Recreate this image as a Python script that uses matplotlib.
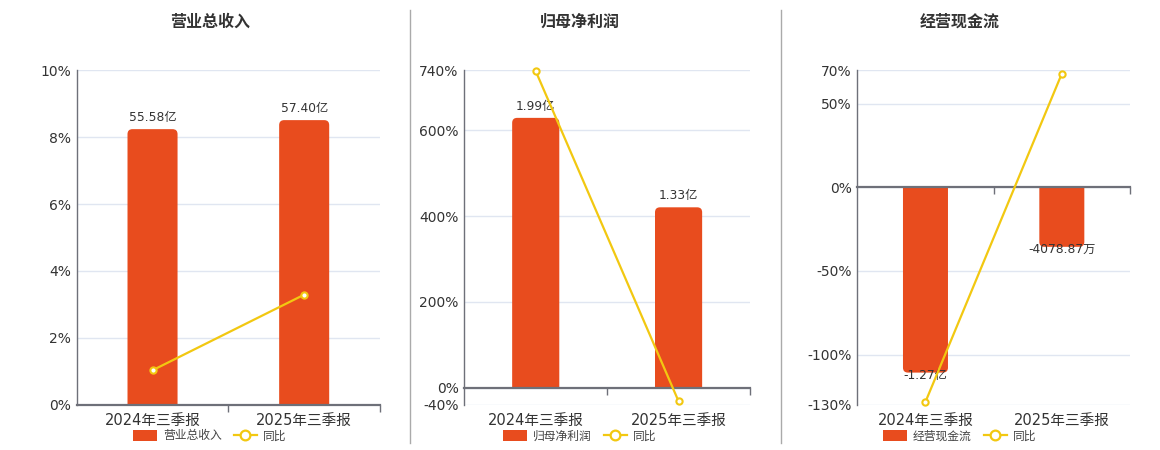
import matplotlib
matplotlib.use("Agg")
import matplotlib.pyplot as plt
from matplotlib.patches import PathPatch, Patch
from matplotlib.path import Path
from matplotlib.lines import Line2D
import numpy as np

plt.rcParams['font.family'] = ['DejaVu Sans', 'Noto Sans CJK SC']

categories = ['2024年三季报', '2025年三季报']

titles = ['营业总收入', '归母净利润', '经营现金流']
bar_names = ['营业总收入', '归母净利润', '经营现金流']

rev_values = [55.58, 57.40]          # 亿
rev_yoy = [1.03, 3.29]               # %
rev_labels = ['55.58亿', '57.40亿']

np_values = [1.99, 1.33]             # 亿
np_yoy = [738.0, -32.0]
np_labels = ['1.99亿', '1.33亿']

cf_values = [-1.27, -0.407887]       # 亿
cf_yoy = [-128.3, 68.0]
cf_labels = ['-1.27亿', '-4078.87万']

pct_ticks = [[0, 2, 4, 6, 8, 10],
             [-40, 0, 200, 400, 600, 740],
             [-130, -100, -50, 0, 50, 70]]
bar_ranges = [(0, 67.45), (-0.1266, 2.341), (-1.490, 0.802)]

BAR_C = '#E84C1E'
LINE_C = '#F2C811'
AX_C = '#6E7079'
GRID_C = '#E0E6F1'
TXT_C = '#333333'

W, H = 1160, 450
fig = plt.figure(figsize=(W / 100, H / 100), dpi=100)

# axes rectangles in pixels: left, right, top, bottom
rects = [(76.7, 380.0, 70.3, 404.7),
         (464.3, 750.0, 70.3, 404.7),
         (857.3, 1130.0, 70.3, 404.7)]
legend_cx = [210, 580, 960]
title_cx = [210, 580, 960]

series = [(rev_values, rev_yoy, rev_labels),
          (np_values, np_yoy, np_labels),
          (cf_values, cf_yoy, cf_labels)]


def rounded_bar_path(x0, y0, w, h, rx, ry):
    """Rectangle with the two corners at the far end (y0+h) rounded."""
    s = 1 if h >= 0 else -1
    y1 = y0 + h
    ry = min(ry, abs(h) / 2)
    verts = [(x0, y0), (x0, y1 - s * ry), (x0, y1), (x0 + rx, y1),
             (x0 + w - rx, y1), (x0 + w, y1), (x0 + w, y1 - s * ry),
             (x0 + w, y0), (x0, y0)]
    codes = [Path.MOVETO, Path.LINETO, Path.CURVE3, Path.CURVE3,
             Path.LINETO, Path.CURVE3, Path.CURVE3, Path.LINETO, Path.CLOSEPOLY]
    return Path(verts, codes)


for i in range(3):
    l, r, t, b = rects[i]
    pos = [l / W, 1 - b / H, (r - l) / W, (b - t) / H]
    vals, yoy, labs = series[i]
    ticks = pct_ticks[i]
    ylim_pct = (ticks[0], ticks[-1])
    x = np.arange(len(categories))
    xlim = (-0.5, len(categories) - 0.5)

    ax = fig.add_axes(pos)
    ax.set_xlim(*xlim)
    ax.set_ylim(*ylim_pct)
    ax.set_yticks(ticks)
    ax.set_yticklabels([f'{v}%' for v in ticks])
    ax.yaxis.grid(True, color=GRID_C, lw=1)
    ax.set_axisbelow(True)
    ax.tick_params(axis='y', length=0, pad=4, labelsize=10, labelcolor=TXT_C)
    ax.set_xticks(x)
    ax.set_xticklabels(categories)
    ax.tick_params(axis='x', length=0, pad=6, labelsize=10.5, labelcolor=TXT_C)
    for s in ['top', 'right', 'bottom']:
        ax.spines[s].set_visible(False)
    ax.spines['left'].set_color(AX_C)
    ax.spines['left'].set_linewidth(1)

    # bars on hidden axis
    axb = fig.add_axes(pos)
    axb.patch.set_visible(False)
    axb.set_xlim(*xlim)
    axb.set_ylim(*bar_ranges[i])
    axb.axis('off')
    bw = 0.33
    bars = axb.bar(x, vals, width=bw, color=BAR_C)
    wpx, hpx = r - l, b - t
    xper = (xlim[1] - xlim[0]) / wpx
    yper = (bar_ranges[i][1] - bar_ranges[i][0]) / hpx
    for p in bars.patches:
        p.set_visible(False)
        path = rounded_bar_path(p.get_x(), p.get_y(), p.get_width(), p.get_height(),
                                5 * xper, 5 * yper)
        axb.add_patch(PathPatch(path, facecolor=BAR_C, edgecolor='none'))
    for xi, v, lab in zip(x, vals, labs):
        if v >= 0:
            axb.annotate(lab, (xi, v), xytext=(0, 3.5), textcoords='offset points',
                         ha='center', va='bottom', fontsize=8.8, color=TXT_C)
        else:
            axb.annotate(lab, (xi, v), xytext=(0, 2.5), textcoords='offset points',
                         ha='center', va='top', fontsize=8.8, color=TXT_C)

    # line + zero axis on top axis
    axl = fig.add_axes(pos)
    axl.patch.set_visible(False)
    axl.set_xlim(*xlim)
    axl.set_ylim(*ylim_pct)
    axl.set_yticks([])
    for s in ['top', 'right', 'left']:
        axl.spines[s].set_visible(False)
    axl.spines['bottom'].set_position(('data', 0))
    axl.spines['bottom'].set_color(AX_C)
    axl.spines['bottom'].set_linewidth(1.6)
    axl.set_xticks(np.arange(xlim[0] + 1.0, xlim[1] + 0.01, 1.0))
    axl.set_xticklabels([])
    axl.tick_params(axis='x', length=5, width=1, color=AX_C, direction='out')
    axl.plot(x, yoy, color=LINE_C, lw=1.6, marker='o', markersize=4.5,
             markerfacecolor='white', markeredgecolor=LINE_C, markeredgewidth=1.5,
             clip_on=False, zorder=5)

    fig.text(title_cx[i] / W, 1 - 22 / H, titles[i], ha='center', va='center',
             fontsize=11.5, fontweight='bold', color=TXT_C)

    handles = [Patch(facecolor=BAR_C, edgecolor='none'),
               Line2D([], [], color=LINE_C, lw=1.6, marker='o', markersize=7,
                      markerfacecolor='white', markeredgecolor=LINE_C, markeredgewidth=1.6)]
    fig.legend(handles, [bar_names[i], '同比'], loc='center',
               bbox_to_anchor=(legend_cx[i] / W, 1 - 436 / H), ncol=2, frameon=False,
               fontsize=8.5, handlelength=2.0, handleheight=1.0, handletextpad=0.5,
               columnspacing=1.0, labelcolor='#444444', borderpad=0)

# separators
for xs in [410.3, 780.8]:
    fig.add_artist(Line2D([xs / W, xs / W], [1 - 10 / H, 1 - 443 / H],
                          color='#AAAAAA', lw=1, transform=fig.transFigure))

fig.savefig('out.png', dpi=100, facecolor='white')
